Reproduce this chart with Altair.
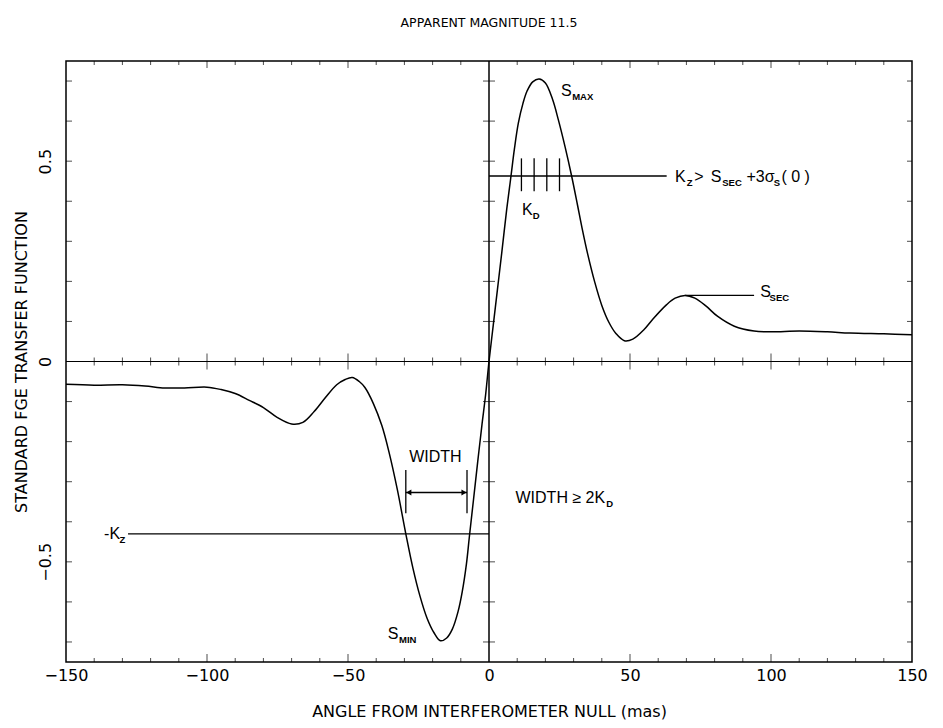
import altair as alt
import pandas as pd

# ---------------- data ----------------
angle = [-150, -140, -130, -122, -115, -108, -100, -95, -90, -85, -80, -75, -70, -66,
         -62, -58, -54, -51, -48.5, -46, -44, -41, -38, -35.5, -32.5, -29.5, -27,
         -24.5, -22, -19.5, -17.2, -15, -13, -11, -9.5, -8, -7, -5.5, -4, -2.5, -1.2,
         0, 1.5, 3, 4.5, 6.3, 7.8, 9, 10.4, 12, 13.5, 15.5, 17.8, 20, 22.5, 24.6, 27,
         29.3, 31.4, 33, 35, 37.5, 40, 42.5, 45, 48, 51, 55, 58, 63, 66, 69.5, 73, 77,
         81, 87, 94, 100, 110, 120, 128, 140, 150]
fge = [-0.057, -0.059, -0.058, -0.061, -0.066, -0.066, -0.064, -0.070, -0.080, -0.097,
       -0.115, -0.140, -0.156, -0.152, -0.125, -0.090, -0.058, -0.045, -0.040, -0.050,
       -0.065, -0.105, -0.160, -0.225, -0.320, -0.430, -0.515, -0.585, -0.640, -0.677,
       -0.697, -0.690, -0.668, -0.625, -0.575, -0.505, -0.440, -0.345, -0.250, -0.158,
       -0.083, 0.0, 0.090, 0.180, 0.270, 0.381, 0.463, 0.530, 0.595, 0.643, 0.675,
       0.698, 0.705, 0.695, 0.655, 0.603, 0.535, 0.463, 0.390, 0.333, 0.268, 0.198,
       0.140, 0.098, 0.070, 0.052, 0.056, 0.080, 0.105, 0.142, 0.158, 0.165, 0.158,
       0.138, 0.113, 0.088, 0.076, 0.074, 0.076, 0.074, 0.071, 0.069, 0.067]

TITLE = "APPARENT MAGNITUDE 11.5"
X_TITLE = "ANGLE FROM INTERFEROMETER NULL (mas)"
Y_TITLE = "STANDARD FGE TRANSFER FUNCTION"
x_labels = [-150, -100, -50, 0, 50, 100, 150]
y_labels = [-0.5, 0, 0.5]

K_Z = 0.463           # threshold line
NEG_K_Z = -0.43
S_SEC = 0.165
kz_line = [0, 63]
neg_kz_line = [-128, 0]
ssec_line = [69.5, 94]
kd_ticks = [11.5, 16, 20.5, 25]
kd_range = [0.425, 0.507]
width_bars = [-29.5, -7.8]
width_range = [-0.271, -0.379]
width_arrow_y = -0.327

main_text = ["S", "K", "K", ">", "S", "+3σ", "( 0 )", "S", "-K", "WIDTH", "WIDTH ≥ 2K", "S"]
main_x = [25.5, 11.7, 66.0, 72.8, 78.6, 91.3, 103.7, 96.2, -136.5, -28.3, 9.4, -35.9]
main_y = [0.663, 0.366, 0.449, 0.449, 0.449, 0.449, 0.449, 0.16, -0.443, -0.251, -0.352, -0.692]

sub_text = ["MAX", "D", "Z", "SEC", "S", "SEC", "Z", "D", "MIN"]
sub_x = [29.5, 15.5, 70.1, 82.7, 101.0, 99.5, -131, 41.6, -31.9]
sub_y = [0.663, 0.366, 0.449, 0.449, 0.449, 0.16, -0.443, -0.352, -0.692]

x_minor = [v for v in range(-140, 150, 10) if v % 50 != 0]
x_major = [-100, -50, 50, 100]
y_ticks = [round(v / 10, 1) for v in range(-7, 8) if v != 0]

# ---------------- scales / axes ----------------
AXFONT = "DejaVu Sans"
TXFONT = "Liberation Sans"
xs = alt.Scale(domain=[-150, 150], nice=False, zero=False)
ys = alt.Scale(domain=[-0.75, 0.75], nice=False, zero=False)
x_axis = alt.Axis(values=x_labels, format="d", ticks=False, domain=False, grid=False,
                  labelFont=AXFONT, labelFontSize=16, labelPadding=5, labelColor="black",
                  labelFlush=False, labelOverlap=False,
                  titleFont=AXFONT, titleFontSize=16, titleFontWeight="normal",
                  titleColor="black", titlePadding=20)
y_axis = alt.Axis(values=y_labels, format=".1~f", ticks=False, domain=False, grid=False,
                  labelAngle=-90, labelAlign="center", labelBaseline="bottom",
                  labelFont=AXFONT, labelFontSize=16, labelPadding=13, labelColor="black",
                  labelFlush=False, labelOverlap=False,
                  titleFont=AXFONT, titleFontSize=16, titleFontWeight="normal",
                  titleColor="black", titlePadding=8)


def X(f):
    return alt.X(f, type="quantitative", scale=xs, axis=x_axis, title=X_TITLE)


def Y(f):
    return alt.Y(f, type="quantitative", scale=ys, axis=y_axis, title=Y_TITLE)


# ---------------- layers ----------------
curve = alt.Chart(pd.DataFrame({"x": angle, "y": fge})).mark_line(
    color="black", strokeWidth=1.5, interpolate="catmull-rom").encode(x=X("x"), y=Y("y"))

zero_h = alt.Chart(pd.DataFrame({"y": [0.0]})).mark_rule(color="black", strokeWidth=1).encode(y=Y("y"))
zero_v = alt.Chart(pd.DataFrame({"x": [0.0]})).mark_rule(color="black", strokeWidth=1.5).encode(x=X("x"))


def tick_layer(xv, yv, orient, size, xoff=0, yoff=0, width=1):
    df = pd.DataFrame({"x": xv, "y": yv})
    return alt.Chart(df).mark_tick(orient=orient, size=size, thickness=width, color="black",
                                   xOffset=xoff, yOffset=yoff).encode(x=X("x"), y=Y("y"))


ticks = [
    tick_layer(x_minor, [-0.75] * len(x_minor), "vertical", 4, yoff=-2),
    tick_layer(x_major, [-0.75] * len(x_major), "vertical", 8, yoff=-4),
    tick_layer(x_minor, [0.75] * len(x_minor), "vertical", 4, yoff=2),
    tick_layer(x_major, [0.75] * len(x_major), "vertical", 7, yoff=3.5),
    tick_layer([-150] * len(y_ticks), y_ticks, "horizontal", 6, xoff=3),
    tick_layer([150] * len(y_ticks), y_ticks, "horizontal", 5, xoff=-2.5),
    tick_layer(x_minor, [0] * len(x_minor), "vertical", 8),
    tick_layer(x_major, [0] * len(x_major), "vertical", 16),
    tick_layer([0] * len(y_ticks), y_ticks, "horizontal", 12),
]

seg = pd.DataFrame({
    "x": [kz_line[0], neg_kz_line[0], ssec_line[0], width_bars[0]],
    "x2": [kz_line[1], neg_kz_line[1], ssec_line[1], width_bars[1]],
    "y": [K_Z, NEG_K_Z, S_SEC, width_arrow_y],
})
hsegs = alt.Chart(seg).mark_rule(color="black", strokeWidth=1.3).encode(
    x=X("x"), x2="x2", y=Y("y"))

vseg = pd.DataFrame({
    "x": kd_ticks + width_bars,
    "y": [kd_range[0]] * len(kd_ticks) + [width_range[0]] * 2,
    "y2": [kd_range[1]] * len(kd_ticks) + [width_range[1]] * 2,
})
vsegs = alt.Chart(vseg).mark_rule(color="black", strokeWidth=1.3).encode(
    x=X("x"), y=Y("y"), y2="y2")

arrow_l = alt.Chart(pd.DataFrame({"x": [width_bars[0]], "y": [width_arrow_y]})).mark_point(
    shape="triangle-left", size=35, filled=True, color="black", opacity=1, xOffset=3).encode(
    x=X("x"), y=Y("y"))
arrow_r = alt.Chart(pd.DataFrame({"x": [width_bars[1]], "y": [width_arrow_y]})).mark_point(
    shape="triangle-right", size=35, filled=True, color="black", opacity=1, xOffset=-3).encode(
    x=X("x"), y=Y("y"))

labels_main = alt.Chart(pd.DataFrame({"x": main_x, "y": main_y, "t": main_text})).mark_text(
    align="left", baseline="alphabetic", font=TXFONT, fontSize=16, color="black").encode(
    x=X("x"), y=Y("y"), text="t")
labels_sub = alt.Chart(pd.DataFrame({"x": sub_x, "y": sub_y, "t": sub_text})).mark_text(
    align="left", baseline="alphabetic", font=TXFONT, fontSize=9.5, fontWeight="bold",
    dy=4, color="black").encode(x=X("x"), y=Y("y"), text="t")

chart = alt.layer(
    zero_h, zero_v, *ticks, hsegs, vsegs, arrow_l, arrow_r, curve, labels_main, labels_sub
).properties(
    width=846, height=601,
    padding={"left": 58, "top": 53, "right": 23, "bottom": 58},
    autosize=alt.AutoSizeParams(type="none"),
    title=alt.TitleParams(TITLE, font=AXFONT, fontSize=12.5, fontWeight="normal",
                          color="black", offset=31, anchor="middle"),
).configure_view(stroke="black", strokeWidth=1.5)

chart.save("out.html", embed_options={"renderer": "svg", "actions": False})
